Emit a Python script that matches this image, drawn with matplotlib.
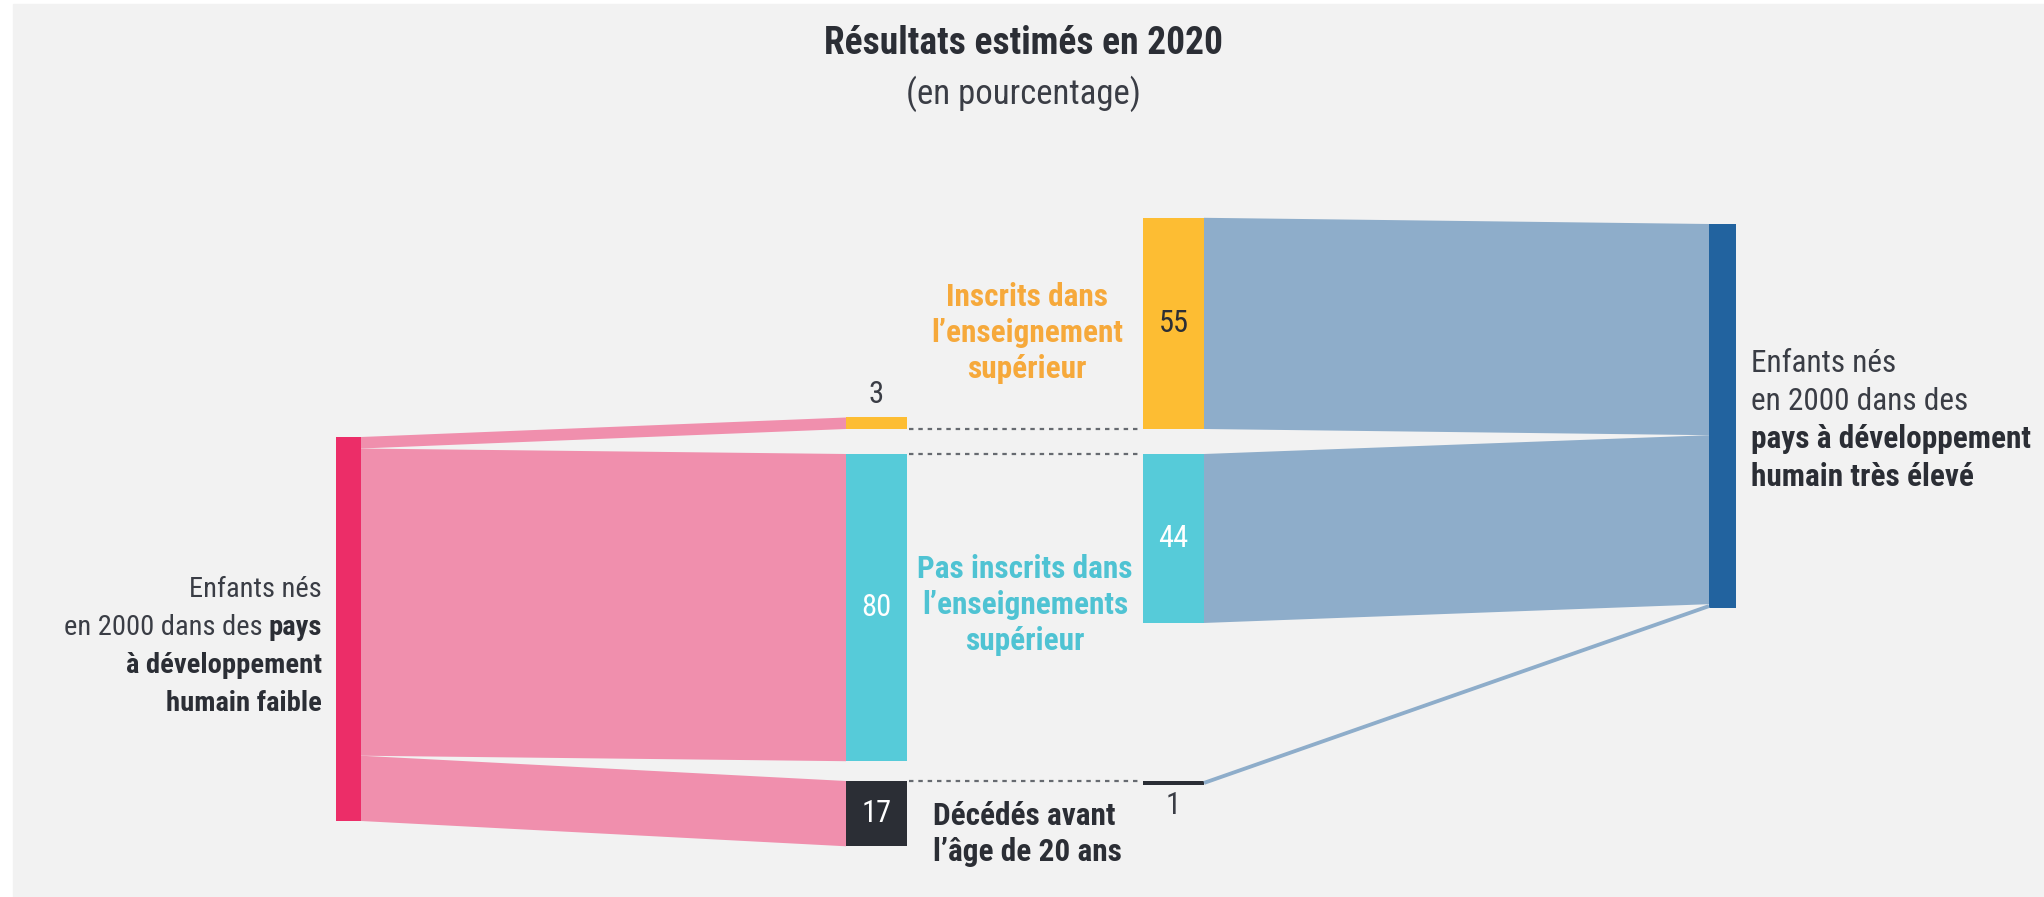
import matplotlib.pyplot as plt
from matplotlib.patches import Rectangle, Polygon
from matplotlib import font_manager

# data (percent)
outcomes = ["Inscrits dans\nl\u2019enseignement\nsupérieur",
            "Pas inscrits dans\nl\u2019enseignements\nsupérieur",
            "Décédés avant\nl\u2019âge de 20 ans"]
low_hdi = [3, 80, 17]
very_high_hdi = [55, 44, 1]
left_label = [[("Enfants nés", "normal")],
              [("en 2000 dans des", "normal"), ("pays", "bold")],
              [("à développement", "bold")],
              [("humain faible", "bold")]]
right_label = [[("Enfants nés", "normal")],
               [("en 2000 dans des", "normal")],
               [("pays à développement", "bold")],
               [("humain très élevé", "bold")]]

# colours
BG = "#f2f2f2"
outcome_colors = ["#fdbd33", "#56cbd9", "#2b2e35"]
label_colors = ["#f6a93b", "#4fc3d3", "#2b2e35"]
num_colors = ["#2b2e35", "white", "white"]
LOW_NODE, LOW_LINK = "#ec2d68", "#f08fad"
HIGH_NODE, HIGH_LINK = "#22639f", "#8eadca"
TXT = "#3a3d45"

avail = {f.name for f in font_manager.fontManager.ttflist}
FONT = next((f for f in ["Roboto Condensed", "Liberation Sans Narrow", "Roboto"] if f in avail), "DejaVu Sans")
plt.rcParams["font.family"] = [FONT, "DejaVu Sans"]

fig = plt.figure(figsize=(20.44, 8.97), dpi=100, facecolor="white")
ax = fig.add_axes([0, 0, 1, 1])
ax.set_xlim(0, 2044)
ax.set_ylim(897, 0)
ax.axis("off")
ax.add_patch(Rectangle((13, 4), 2044, 897, color=BG, zorder=0))

unit = 3.84          # pixels per percent
x_left, w_side = 336, 25
x_mid1, x_mid2, w_mid = 846, 1143, 61
x_right = 1709
left_top, right_top = 437, 224
orange_bottom, cyan_top, dark_top = 429, 454, 781

def node_span(i, v):
    if i == 0:
        return orange_bottom - v * unit, orange_bottom
    top = cyan_top if i == 1 else dark_top
    return top, top + v * unit

# left node and its links
ax.add_patch(Rectangle((x_left, left_top), w_side, sum(low_hdi) * unit, color=LOW_NODE, lw=0))
y = left_top
for i, v in enumerate(low_hdi):
    t0, t1 = node_span(i, v)
    ax.add_patch(Polygon([(x_left + w_side, y), (x_mid1, t0), (x_mid1, t1), (x_left + w_side, y + v * unit)],
                         closed=True, color=LOW_LINK, lw=0))
    ax.add_patch(Rectangle((x_mid1, t0), w_mid, t1 - t0, color=outcome_colors[i], lw=0))
    y += v * unit

# right node and its links
ax.add_patch(Rectangle((x_right, right_top), w_side + 2, sum(very_high_hdi) * unit, color=HIGH_NODE, lw=0))
y = right_top
for i, v in enumerate(very_high_hdi):
    t0, t1 = node_span(i, v)
    if v * unit < 6:
        ax.plot([x_mid2 + w_mid, x_right], [t0 + v * unit / 2, y + v * unit / 2], color=HIGH_LINK, lw=v * unit * 0.72,
                solid_capstyle="butt")
    else:
        ax.add_patch(Polygon([(x_mid2 + w_mid, t0), (x_right, y), (x_right, y + v * unit), (x_mid2 + w_mid, t1)],
                             closed=True, color=HIGH_LINK, lw=0))
    ax.add_patch(Rectangle((x_mid2, t0), w_mid, t1 - t0, color=outcome_colors[i], lw=0))
    y += v * unit

# dotted connectors between matching outcomes
for yy in [orange_bottom, cyan_top, dark_top]:
    ax.plot([x_mid1 + w_mid + 2, x_mid2 - 2], [yy, yy], ls=(0, (2, 2.2)), color="#666a70", lw=1.6)

# value labels
NUM = 22
for i, v in enumerate(low_hdi):
    t0, t1 = node_span(i, v)
    if v * unit < 30:
        ax.text(x_mid1 + w_mid / 2, t0 - 8, str(v), ha="center", va="bottom", fontsize=NUM, color=TXT)
    else:
        ax.text(x_mid1 + w_mid / 2, (t0 + t1) / 2, str(v), ha="center", va="center", fontsize=NUM, color=num_colors[i])
for i, v in enumerate(very_high_hdi):
    t0, t1 = node_span(i, v)
    if v * unit < 30:
        ax.text(x_mid2 + w_mid / 2, t1 + 6, str(v), ha="center", va="top", fontsize=NUM, color=TXT)
    else:
        ax.text(x_mid2 + w_mid / 2, (t0 + t1) / 2, str(v), ha="center", va="center", fontsize=NUM, color=num_colors[i])

# outcome labels
LAB = 22.5
ax.text(1027, 333, outcomes[0], ha="center", va="center", fontsize=LAB, fontweight="bold",
        color=label_colors[0], linespacing=1.25)
ax.text(1025, 605, outcomes[1], ha="center", va="center", fontsize=LAB, fontweight="bold",
        color=label_colors[1], linespacing=1.25)
ax.text(933, 834, outcomes[2], ha="left", va="center", fontsize=LAB, fontweight="bold",
        color=label_colors[2], linespacing=1.25)

# side labels with mixed weights
renderer = fig.canvas.get_renderer()
def mixed_line(x, y, parts, ha, size):
    gap = 6
    seq = parts[::-1] if ha == "right" else parts
    for text, weight in seq:
        col = "#2b2e35" if weight == "bold" else TXT
        t = ax.text(x, y, text, ha=ha, va="baseline", fontsize=size, fontweight=weight, color=col)
        w = t.get_window_extent(renderer).width
        x = x - w - gap if ha == "right" else x + w + gap

for k, line in enumerate(left_label):
    mixed_line(322, 597 + k * 38, line, "right", 20.5)
for k, line in enumerate(right_label):
    mixed_line(1751, 372 + k * 38, line, "left", 22.5)

# title
ax.text(1023, 44, "Résultats estimés en 2020", ha="center", va="center", fontsize=27, fontweight="bold", color="#2b2e35")
ax.text(1023, 94, "(en pourcentage)", ha="center", va="center", fontsize=25, color=TXT)

fig.savefig("out.png", dpi=100, facecolor=fig.get_facecolor())
